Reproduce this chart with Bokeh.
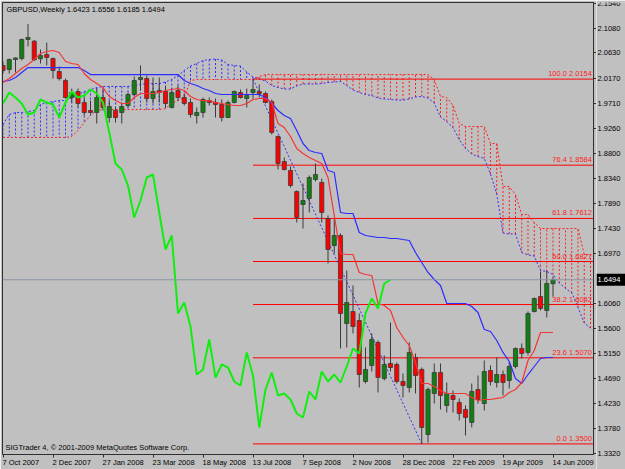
from bokeh.plotting import figure
from bokeh.layouts import row
from bokeh.models import Range1d, FixedTicker, Label, Span, ColumnDataSource, LinearAxis
from bokeh.core.properties import value
from bokeh.embed import file_html
from bokeh.resources import INLINE

# ---------------- data (weekly GBPUSD, bar index 0 = week of 7 Oct 2007) ----------------
opens = [2.0402, 2.0329, 2.0511, 2.0529, 2.0876, 2.0845, 2.0524, 2.0602, 2.0529, 2.0292,
         2.0128, 1.9818, 1.9927, 1.9727, 1.9581, 1.9545, 1.9818, 1.9453, 1.9581, 1.9545,
         1.9672, 1.9873, 2.0146, 2.0164, 1.9800, 1.9946, 1.9927, 1.9636, 1.9946, 1.9818,
         1.9727, 1.9490, 1.9545, 1.9763, 1.9727, 1.9690, 1.9453, 1.9727, 1.9909, 1.9800,
         1.9909, 1.9927, 1.9891, 1.9745, 1.9107, 1.8651, 1.8487, 1.8104, 1.7867, 1.7976,
         1.8323, 1.8268, 1.7611, 1.7119, 1.7301, 1.5696, 1.5915, 1.5751, 1.4639, 1.4930,
         1.5350, 1.4694, 1.4967, 1.4949, 1.4639, 1.4529, 1.5076, 1.4858, 1.3672, 1.4420,
         1.4803, 1.4201, 1.4383, 1.4256, 1.4128, 1.3891, 1.4493, 1.4237, 1.4839, 1.4620,
         1.4766, 1.4657, 1.4912, 1.5241, 1.5168, 1.5915, 1.6189, 1.5934, 1.6423]
highs = [2.0475, 2.0529, 2.0548, 2.0894, 2.1160, 2.0867, 2.0693, 2.0821, 2.0548, 2.0383,
         2.0164, 1.9982, 1.9982, 1.9818, 1.9763, 1.9982, 1.9982, 1.9763, 1.9636, 1.9709,
         1.9909, 2.0201, 2.0402, 2.0219, 2.0183, 2.0183, 2.0037, 1.9982, 2.0037, 1.9891,
         1.9800, 1.9636, 1.9818, 1.9818, 1.9800, 1.9782, 1.9763, 1.9946, 1.9964, 1.9982,
         2.0154, 2.0055, 1.9927, 1.9782, 1.9125, 1.8724, 1.8560, 1.8122, 1.8250, 1.8396,
         1.8614, 1.8341, 1.7666, 1.7611, 1.7338, 1.6663, 1.6389, 1.5879, 1.5259, 1.5514,
         1.5387, 1.5113, 1.5715, 1.4985, 1.4785, 1.5350, 1.5149, 1.4894, 1.4529, 1.4967,
         1.4967, 1.4620, 1.4475, 1.4329, 1.4201, 1.4602, 1.4748, 1.5022, 1.4930, 1.5076,
         1.4839, 1.4985, 1.5259, 1.5332, 1.5915, 1.6171, 1.6645, 1.6663, 1.6556]
lows = [2.0256, 2.0256, 2.0274, 2.0493, 2.0748, 2.0484, 2.0438, 2.0402, 2.0164, 2.0128,
        1.9800, 1.9727, 1.9636, 1.9490, 1.9526, 1.9344, 1.9581, 1.9362, 1.9362, 1.9344,
        1.9636, 1.9836, 1.9946, 1.9727, 1.9709, 1.9727, 1.9636, 1.9618, 1.9763, 1.9672,
        1.9453, 1.9344, 1.9453, 1.9672, 1.9453, 1.9380, 1.9444, 1.9709, 1.9800, 1.9636,
        1.9800, 1.9818, 1.9709, 1.9143, 1.8505, 1.8487, 1.8177, 1.7538, 1.7429, 1.7721,
        1.8286, 1.7538, 1.6791, 1.6973, 1.5241, 1.5259, 1.5514, 1.4529, 1.4602, 1.4821,
        1.4438, 1.4657, 1.4821, 1.4602, 1.4347, 1.4438, 1.4420, 1.3500, 1.3526, 1.4237,
        1.4128, 1.4073, 1.4073, 1.3928, 1.3654, 1.3800, 1.4237, 1.4110, 1.4566, 1.4529,
        1.4383, 1.4511, 1.4876, 1.5058, 1.5113, 1.5897, 1.5934, 1.5806, 1.6185]
closes = [2.0310, 2.0511, 2.0540, 2.0876, 2.0912, 2.0506, 2.0584, 2.0548, 2.0310, 2.0164,
          1.9818, 1.9909, 1.9709, 1.9545, 1.9545, 1.9818, 1.9636, 1.9654, 1.9453, 1.9654,
          1.9873, 2.0128, 2.0183, 1.9800, 1.9927, 1.9909, 1.9709, 1.9909, 1.9818, 1.9709,
          1.9508, 1.9545, 1.9782, 1.9727, 1.9690, 1.9453, 1.9727, 1.9927, 1.9818, 1.9854,
          1.9964, 1.9891, 1.9727, 1.9180, 1.8614, 1.8505, 1.8213, 1.7630, 1.7940, 1.8359,
          1.8414, 1.7721, 1.7046, 1.7301, 1.5879, 1.6079, 1.5642, 1.4766, 1.4858, 1.5405,
          1.4712, 1.4949, 1.4894, 1.4639, 1.4566, 1.5168, 1.4748, 1.3800, 1.4493, 1.4803,
          1.4383, 1.4420, 1.4310, 1.4055, 1.3982, 1.4456, 1.4310, 1.4821, 1.4639, 1.4766,
          1.4620, 1.4912, 1.5241, 1.5149, 1.5879, 1.6152, 1.5970, 1.6426, 1.6494]

# Ichimoku lines
tenkan = [2.0092, 2.0165, 2.0256, 2.0347, 2.0420, 2.0511, 2.0620, 2.0657, 2.0675, 2.0639,
          2.0475, 2.0438, 2.0420, 2.0256, 2.0146, 2.0073, 2.0000, 1.9836, 1.9763, 1.9709,
          1.9709, 1.9818, 1.9891, 1.9891, 1.9891, 1.9909, 1.9946, 1.9964, 1.9982, 1.9946,
          1.9836, 1.9782, 1.9763, 1.9763, 1.9727, 1.9709, 1.9690, 1.9672, 1.9672, 1.9709,
          1.9782, 1.9800, 1.9800, 1.9727, 1.9344, 1.9271, 1.9107, 1.8888, 1.8797, 1.8724,
          1.8669, 1.8614, 1.8359, 1.7666, 1.6973, 1.6955, 1.6955, 1.6627, 1.6590, 1.6572,
          1.6061, 1.6025, 1.5934, 1.5624, 1.5441, 1.5295, 1.4985, 1.4602, 1.4602, 1.4548,
          1.4475, 1.4420, 1.4420, 1.4420, 1.4420, 1.4347, 1.4292, 1.4310, 1.4310, 1.4329,
          1.4347, 1.4438, 1.4493, 1.4620, 1.5022, 1.5204, 1.5532, 1.5532, 1.5532]
kijun = [2.0110, 2.0128, 2.0183, 2.0274, 2.0365, 2.0365, 2.0365, 2.0365, 2.0365, 2.0365,
         2.0365, 2.0365, 2.0365, 2.0310, 2.0237, 2.0237, 2.0237, 2.0237, 2.0237, 2.0237,
         2.0237, 2.0237, 2.0237, 2.0237, 2.0237, 2.0237, 2.0237, 2.0237, 2.0237, 2.0128,
         2.0073, 2.0037, 1.9982, 1.9946, 1.9891, 1.9873, 1.9873, 1.9873, 1.9873, 1.9873,
         1.9873, 1.9873, 1.9818, 1.9709, 1.9581, 1.9490, 1.9435, 1.9216, 1.8979, 1.8851,
         1.8815, 1.8797, 1.8487, 1.8450, 1.7721, 1.7703, 1.7703, 1.7356, 1.7301, 1.7283,
         1.7265, 1.7265, 1.7247, 1.7247, 1.7228, 1.7210, 1.6991, 1.6809, 1.6627, 1.6499,
         1.6389, 1.6061, 1.6061, 1.6061, 1.6061, 1.6006, 1.5897, 1.5587, 1.5551, 1.5386,
         1.5168, 1.5003, 1.4693, 1.4602, 1.4766, 1.4912, 1.5058, 1.5076, 1.5076]
senkou_a = [1.9326, 1.9508, 1.9544, 1.9544, 1.9563, 1.9581, 1.9690, 1.9727, 1.9745, 1.9763,
            1.9763, 1.9818, 1.9873, 1.9927, 1.9964, 2.0000, 2.0019, 2.0019, 2.0019, 2.0019,
            2.0019, 2.0037, 2.0055, 2.0073, 2.0073, 2.0073, 2.0101, 2.0146, 2.0219, 2.0310,
            2.0392, 2.0438, 2.0493, 2.0511, 2.0520, 2.0502, 2.0420, 2.0402, 2.0392, 2.0283,
            2.0192, 2.0155, 2.0119, 2.0037, 2.0000, 1.9973, 1.9973, 2.0028, 2.0064, 2.0064,
            2.0064, 2.0073, 2.0092, 2.0101, 2.0110, 2.0037, 1.9955, 1.9909, 1.9873, 1.9854,
            1.9809, 1.9791, 1.9782, 1.9772, 1.9772, 1.9791, 1.9827, 1.9836, 1.9809, 1.9718,
            1.9462, 1.9380, 1.9271, 1.9052, 1.8888, 1.8788, 1.8742, 1.8706, 1.8423, 1.8058,
            1.7347, 1.7329, 1.7329, 1.6991, 1.6946, 1.6927, 1.6663, 1.6645, 1.6590, 1.6435,
            1.6335, 1.6253, 1.5988, 1.5706, 1.5614]
senkou_b = [1.9089, 1.9089, 1.9089, 1.9089, 1.9089, 1.9089, 1.9089, 1.9089, 1.9089, 1.9089,
            1.9089, 1.9107, 1.9216, 1.9362, 1.9490, 1.9581, 1.9599, 1.9599, 1.9599, 1.9599,
            1.9599, 1.9599, 1.9599, 1.9599, 1.9599, 1.9599, 1.9617, 1.9709, 1.9763, 1.9818,
            2.0128, 2.0146, 2.0146, 2.0146, 2.0146, 2.0146, 2.0146, 2.0146, 2.0146, 2.0146,
            2.0146, 2.0201, 2.0237, 2.0237, 2.0237, 2.0237, 2.0237, 2.0237, 2.0237, 2.0237,
            2.0237, 2.0237, 2.0237, 2.0237, 2.0237, 2.0237, 2.0237, 2.0237, 2.0237, 2.0237,
            2.0237, 2.0237, 2.0237, 2.0237, 2.0237, 2.0237, 2.0237, 2.0237, 2.0237, 2.0146,
            1.9836, 1.9818, 1.9672, 1.9344, 1.9289, 1.9289, 1.9289, 1.9289, 1.8979, 1.8979,
            1.8195, 1.8195, 1.8049, 1.7684, 1.7684, 1.7538, 1.7429, 1.7429, 1.7429, 1.7429,
            1.7429, 1.7429, 1.7429, 1.6955, 1.6955]
chikou_shift = 26

# Fibonacci retracement
fib_pct = ["100.0", "76.4", "61.8", "50.0", "38.2", "23.6", "0.0"]
fib_val = [2.0154, 1.8584, 1.7612, 1.6827, 1.6042, 1.5070, 1.3500]
fib_from_bar = 40   # 13 Jul 2008 high
fib_to_bar = 67     # Jan 2009 low

# axes
x_tick_bars = [0, 8, 16, 24, 32, 40, 48, 56, 64, 72, 80, 88]
x_tick_labels = ["7 Oct 2007", "2 Dec 2007", "27 Jan 2008", "23 Mar 2008", "18 May 2008",
                 "13 Jul 2008", "7 Sep 2008", "2 Nov 2008", "28 Dec 2008", "22 Feb 2009",
                 "19 Apr 2009", "14 Jun 2009"]
y_ticks = [2.1540, 2.1080, 2.0630, 2.0170, 1.9710, 1.9260, 1.8800, 1.8340, 1.7890, 1.7430,
           1.6970, 1.6060, 1.5600, 1.5150, 1.4690, 1.4230, 1.3780, 1.3320]
title_text = "GBPUSD,Weekly  1.6423 1.6556 1.6185 1.6494"
footer_text = "SIGTrader 4, \u00a9 2001-2009 MetaQuotes Software Corp."

# ---------------- styling ----------------
BG = "#c0c0c0"
FONT = "Liberation Sans"
FS_PX = 7.5
FS = f"{FS_PX}px"
X0, X1 = -0.08, 94.48
Y0, Y1 = 1.3307, 2.1551
FRAME_W, FRAME_H = 591, 452
BAR_PX = FRAME_W / (X1 - X0)
SCALE_W = 29          # width of the price-scale strip on the right
SCALE_H = 467         # the strip runs down to the bottom of the window

# approximate Arial/Liberation advance widths (em) used to left-align date labels
_W = {" ": .278, "O": .778, "c": .5, "t": .278, "D": .722, "e": .556, "J": .5, "a": .556,
      "n": .556, "M": .833, "r": .333, "y": .5, "u": .556, "l": .222, "S": .667, "p": .556,
      "N": .722, "o": .556, "v": .5, "F": .611, "b": .556, "A": .667}


def text_px(s):
    return sum(_W.get(ch, .556) for ch in s) * FS_PX


p = figure(frame_width=FRAME_W, frame_height=FRAME_H, output_backend="svg", toolbar_location=None,
           x_range=Range1d(X0, X1), y_range=Range1d(Y0, Y1),
           y_axis_location="right", x_axis_location="below",
           min_border_left=2, min_border_top=2, min_border_right=0, min_border_bottom=0,
           background_fill_color=BG, border_fill_color=BG)
p.grid.visible = False
p.outline_line_color = "#303030"
p.outline_line_width = 1

# right axis: tick marks only, the prices are written in the strip next to it
ya = p.yaxis[0]
ya.ticker = FixedTicker(ticks=y_ticks)
ya.major_label_overrides = {t: "" for t in y_ticks}
ya.major_label_text_font_size = "0px"
ya.major_label_standoff = 0
ya.major_tick_in = 0
ya.major_tick_out = 3
ya.minor_tick_out = 0
ya.minor_tick_in = 0
ya.axis_line_color = "#303030"
ya.major_tick_line_color = "#303030"

# x axis 1: tick marks at the bars (no labels)
xa = p.xaxis[0]
xa.ticker = FixedTicker(ticks=x_tick_bars)
xa.major_label_overrides = {b: "" for b in x_tick_bars}
xa.major_label_text_font_size = "0px"
xa.major_label_standoff = 0
xa.major_tick_in = 0
xa.major_tick_out = 3
xa.minor_tick_out = 0
xa.minor_tick_in = 0
xa.axis_line_color = "#303030"
xa.major_tick_line_color = "#303030"

# x axis 2: the date labels, left-aligned on their ticks
label_pos = [b + (text_px(t) / 2 - 0.5) / BAR_PX for b, t in zip(x_tick_bars, x_tick_labels)]
xa2 = LinearAxis(ticker=FixedTicker(ticks=label_pos),
                 major_label_overrides={q: t for q, t in zip(label_pos, x_tick_labels)},
                 major_tick_in=0, major_tick_out=0, minor_tick_in=0, minor_tick_out=0,
                 axis_line_color=None, major_tick_line_color=None, major_label_standoff=0,
                 major_label_text_font=FONT, major_label_text_font_size=FS,
                 major_label_text_color="black")
p.add_layout(xa2, "below")

# ---------------- cloud ----------------
cloud_idx = list(range(len(senkou_a)))
hatch_col = ["#3030ff" if a > b else "#ff2020" for a, b in zip(senkou_a, senkou_b)]
cloud_src = ColumnDataSource(dict(x=cloud_idx, a=senkou_a, b=senkou_b, c=hatch_col))
p.segment(x0="x", y0="a", x1="x", y1="b", source=cloud_src, line_color="c",
          line_width=1, line_dash="2 2")
p.line(cloud_idx, senkou_a, line_color="#3030ff", line_width=1, line_dash="2 2")
p.line(cloud_idx, senkou_b, line_color="#ff2020", line_width=1, line_dash="2 2")

# ---------------- fibonacci ----------------
fib_src = ColumnDataSource(dict(v=fib_val, t=[f"{a} {b:.4f}" for a, b in zip(fib_pct, fib_val)]))
p.segment(x0=fib_from_bar, y0="v", x1=X1, y1="v", source=fib_src, line_color="#ff0000", line_width=1)
p.text(x=X1 - 0.25, y="v", text="t", source=fib_src, text_color="#ff2020",
       text_font=value(FONT), text_font_size=FS, text_align="right", text_baseline="bottom",
       y_offset=-1)
p.line([fib_from_bar, fib_to_bar], [fib_val[0], fib_val[-1]], line_color="#3030ff",
       line_width=1, line_dash="2 2")

# bid line
p.add_layout(Span(location=closes[-1], dimension="width", line_color="#8a96a2", line_width=1))

# ---------------- candles ----------------
n = len(closes)
idx = list(range(n))
c_src = ColumnDataSource(dict(
    x=idx, h=highs, l=lows,
    top=[max(o, c) for o, c in zip(opens, closes)],
    bot=[min(o, c) for o, c in zip(opens, closes)],
    col=["#108010" if c >= o else "#ff0000" for o, c in zip(opens, closes)]))
p.segment(x0="x", y0="l", x1="x", y1="h", source=c_src, line_color="#3a3a3a", line_width=1)
p.vbar(x="x", width=0.66, top="top", bottom="bot", source=c_src, fill_color="col",
       line_color="#3a3a3a", line_width=0.8)

# ---------------- ichimoku lines ----------------
p.line(idx, kijun, line_color="#2c2cff", line_width=1.2)
p.line(idx, tenkan, line_color="#f53535", line_width=1.2)
p.line(idx[:n - chikou_shift], closes[chikou_shift:], line_color="#10ee10", line_width=2)

# ---------------- texts ----------------
p.add_layout(Label(x=X0, y=Y1, x_offset=4, y_offset=-2, text=title_text, text_font=FONT,
                   text_font_size=FS, text_color="black", text_baseline="top"))
p.add_layout(Label(x=X0, y=Y0, x_offset=3, y_offset=3, text=footer_text, text_font=FONT,
                   text_font_size=FS, text_color="black", text_baseline="bottom"))

# ---------------- price scale strip (same price scale, extended to the window bottom) ----------------
s_y0 = Y1 - (Y1 - Y0) * SCALE_H / FRAME_H
s = figure(frame_width=SCALE_W, frame_height=SCALE_H, output_backend="svg", toolbar_location=None,
           x_range=Range1d(0, SCALE_W), y_range=Range1d(s_y0, Y1),
           x_axis_location=None, y_axis_location=None,
           min_border_left=0, min_border_top=2, min_border_right=0, min_border_bottom=0,
           background_fill_color=BG, border_fill_color=BG)
s.grid.visible = False
s.outline_line_color = None
s.text(x=1, y=y_ticks, text=[f"{t:.4f}" for t in y_ticks], text_color="black",
       text_font=value(FONT), text_font_size=FS, text_align="left", text_baseline="middle")
s.rect(x=SCALE_W / 2, y=closes[-1], width=SCALE_W, height=12, height_units="screen",
       fill_color="black", line_color=None)
s.text(x=1, y=[closes[-1]], text=[f"{closes[-1]:.4f}"], text_color="white",
       text_font=value(FONT), text_font_size=FS, text_align="left", text_baseline="middle")

layout = row(p, s, spacing=0)
open("out.html", "w").write(file_html(layout, INLINE))
